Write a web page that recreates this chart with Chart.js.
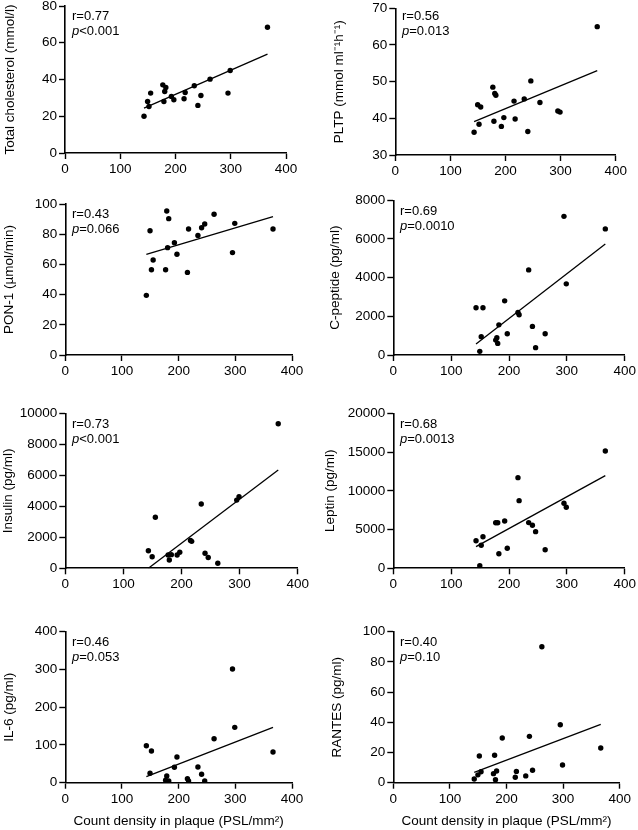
<!DOCTYPE html>
<html>
<head>
<meta charset="utf-8">
<script src="https://cdn.jsdelivr.net/npm/chart.js@4.4.1/dist/chart.umd.min.js"></script>
<style>
  body { margin: 0; background: #fff; width: 638px; height: 830px; position: relative; overflow: hidden;
         font-family: Arial, "Liberation Sans", sans-serif; }
  canvas { position: absolute; }
  .stat { position: absolute; font-size: 13px; line-height: 15px; color: #000; white-space: nowrap; }
</style>
</head>
<body>
<script>
// ---- data (same 19 plaques on every panel) ----
const plaqueDensity = [143, 149.5, 152, 155, 177, 179, 180.5, 182.5, 192.5, 197, 215.5, 217.5, 234, 240.5, 246, 262.5, 295, 299, 366.5];

const cholesterol = [20, 28, 25.3, 32.6, 37.1, 28, 33.5, 35.7, 30.8, 29, 29.5, 32.9, 36.6, 25.9, 31.3, 40.2, 32.6, 44.9, 68.4];
const pltp        = [36.2, 43.7, 38.4, 43.1, 48.5, 39.2, 46.8, 46.3, 37.8, 40.2, 44.7, 39.8, 45.3, 36.4, 50.2, 44.3, 42, 41.7, 65];
const pon1        = [39.5, 82.3, 56.5, 62.9, 56.5, 95.4, 71.1, 90.3, 74.4, 66.7, 54.7, 83.4, 79.2, 84.3, 86.8, 93.2, 67.8, 87.2, 83.4];
const cPeptide    = [2440, 190, 950, 2440, 770, 890, 600, 1560, 2800, 1100, 2200, 2080, 4400, 1480, 380, 1100, 7170, 3680, 6520];
const insulin     = [1130, 750, null, 3290, 860, 540, null, 880, 860, 1040, 1800, 1740, 4150, 970, 700, 330, 4400, 4620, 9330];
const leptin      = [3560, 340, 2970, 4080, 5880, null, 5880, 1880, 6100, 2580, 11700, 8730, 5900, 5550, 4730, 2400, 8390, 7870, 15140];
const il6         = [98, 24.9, 84, null, 6.4, 17.7, null, 4.5, 40.8, 68, 10.6, 4.5, 41.6, 22.2, 4.5, 116.6, 301, 146.6, 81.2];
const rantes      = [2.5, 5.2, 17.7, 7.3, 6, 18.2, 2, 7.7, 29.6, null, 3.6, 7.5, 4.5, 30.7, 8.2, 90, 38.4, 11.7, 23];

// regression lines: end points as drawn
const fitX = [143, 366.5];
const cholesterolFit = [24.4, 53.8];
const pltpFit        = [39.1, 53];
const pon1Fit        = [66.7, 91.6];
const cPeptideFit    = [570, 5740];
const insulinFit     = [0, 6340];
const leptinFit      = [2800, 11960];
const il6Fit         = [15.9, 146.6];
const rantesFit      = [6.8, 38.6];

const rValues = ["0.77", "0.56", "0.43", "0.69", "0.73", "0.68", "0.46", "0.40"];
const pValues = ["<0.001", "=0.013", "=0.066", "=0.0010", "<0.001", "=0.0013", "=0.053", "=0.10"];

const yTitles = ["Total cholesterol (mmol/l)", "PLTP (mmol ml\u207B\u00B9h\u207B\u00B9)", "PON-1 (\u00B5mol/min)", "C-peptide (pg/ml)",
                 "Insulin (pg/ml)", "Leptin (pg/ml)", "IL-6 (pg/ml)", "RANTES (pg/ml)"];
const xTitle = "Count density in plaque (PSL/mm\u00B2)";
const xTicks = [0, 100, 200, 300, 400];

// y range per panel: [min, max, step]
const yRanges = [[0, 80, 20], [30, 70, 10], [0, 100, 20], [0, 8000, 2000],
                 [0, 10000, 2000], [0, 20000, 5000], [0, 400, 100], [0, 100, 20]];

const series = [cholesterol, pltp, pon1, cPeptide, insulin, leptin, il6, rantes];
const fits = [cholesterolFit, pltpFit, pon1Fit, cPeptideFit, insulinFit, leptinFit, il6Fit, rantesFit];

// ---- layout (page px): plot box, y-title centre, stats text corner ----
const layout = [
  { l: 65,    r: 286,   t: 6,     b: 153,   tx: 11,  sx: 72,  sy: 8 },
  { l: 395.3, r: 615.7, t: 8.3,   b: 155,   tx: 340, sx: 402, sy: 8 },
  { l: 65.3,  r: 292,   t: 204,   b: 355,   tx: 10,  sx: 72,  sy: 206 },
  { l: 393.3, r: 624.7, t: 200.3, b: 355,   tx: 336, sx: 400, sy: 203 },
  { l: 65.3,  r: 297.7, t: 413.3, b: 568.3, tx: 9,   sx: 72,  sy: 416 },
  { l: 393.3, r: 624.7, t: 413.3, b: 568.3, tx: 331, sx: 400, sy: 416 },
  { l: 65.3,  r: 292,   t: 631.7, b: 782.7, tx: 10,  sx: 72,  sy: 634, xt: true },
  { l: 393.3, r: 619.7, t: 631.7, b: 782.7, tx: 338, sx: 400, sy: 634, xt: true },
];

const FONT = 'Arial, "Liberation Sans", sans-serif';
const TICK_FONT = { family: FONT, size: 13.5 };
const TITLE_FONT = { family: FONT, size: 13.5 };
const HALF_TITLE = 13.5 * 1.2 / 2;

function axisCommon() {
  return {
    grid: { display: true, drawOnChartArea: false, drawTicks: true, tickLength: 6, tickWidth: 1.4, tickColor: "#000" },
    border: { display: true, color: "#000", width: 1.6 },
  };
}

series.forEach((values, i) => {
  const g = layout[i];
  const [yMin, yMax, yStep] = yRanges[i];

  const cx = Math.floor(g.tx - HALF_TITLE);
  const cy = Math.floor(g.t - 12);
  const xH = g.xt ? 39 + HALF_TITLE : 25;
  const cw = Math.ceil(g.r + 20 - cx);
  const ch = Math.ceil(g.b + xH - cy);

  const canvas = document.createElement("canvas");
  canvas.width = cw;
  canvas.height = ch;
  canvas.style.left = cx + "px";
  canvas.style.top = cy + "px";
  canvas.style.width = cw + "px";
  canvas.style.height = ch + "px";
  document.body.appendChild(canvas);

  const points = plaqueDensity
    .map((x, k) => ({ x, y: values[k] }))
    .filter((p) => p.y !== null);
  const line = fitX.map((x, k) => ({ x, y: fits[i][k] }));

  new Chart(canvas.getContext("2d"), {
    type: "scatter",
    data: {
      datasets: [
        { data: points, backgroundColor: "#000", borderWidth: 0, pointRadius: 2.7, pointHoverRadius: 2.7 },
        { data: line, showLine: true, borderColor: "#000", borderWidth: 1.3, pointRadius: 0, fill: false },
      ],
    },
    options: {
      responsive: false,
      animation: false,
      events: [],
      layout: { padding: { left: 0, top: g.t - cy, right: cx + cw - g.r, bottom: cy + ch - g.b - xH } },
      plugins: { legend: { display: false }, tooltip: { enabled: false } },
      scales: {
        x: {
          type: "linear", min: 0, max: 400, offset: false,
          ...axisCommon(),
          afterBuildTicks: (s) => { s.ticks = xTicks.map((v) => ({ value: v })); },
          afterFit: (s) => { s.height = xH; },
          ticks: { color: "#000", font: TICK_FONT, padding: 2, autoSkip: false, maxRotation: 0, callback: (v) => String(v) },
          title: { display: !!g.xt, text: xTitle, color: "#000", font: TITLE_FONT, padding: 0 },
        },
        y: {
          type: "linear", min: yMin, max: yMax,
          ...axisCommon(),
          afterFit: (s) => { s.width = g.l - cx; },
          ticks: { color: "#000", font: TICK_FONT, padding: 2, stepSize: yStep, autoSkip: false, callback: (v) => String(v) },
          title: { display: true, text: yTitles[i], color: "#000", font: TITLE_FONT, padding: 0 },
        },
      },
    },
  });

  const stat = document.createElement("div");
  stat.className = "stat";
  stat.style.left = g.sx + "px";
  stat.style.top = g.sy + "px";
  stat.innerHTML = "r=" + rValues[i] + "<br><i>p</i>" + pValues[i].replace("<", "&lt;");
  document.body.appendChild(stat);
});
</script>
</body>
</html>
